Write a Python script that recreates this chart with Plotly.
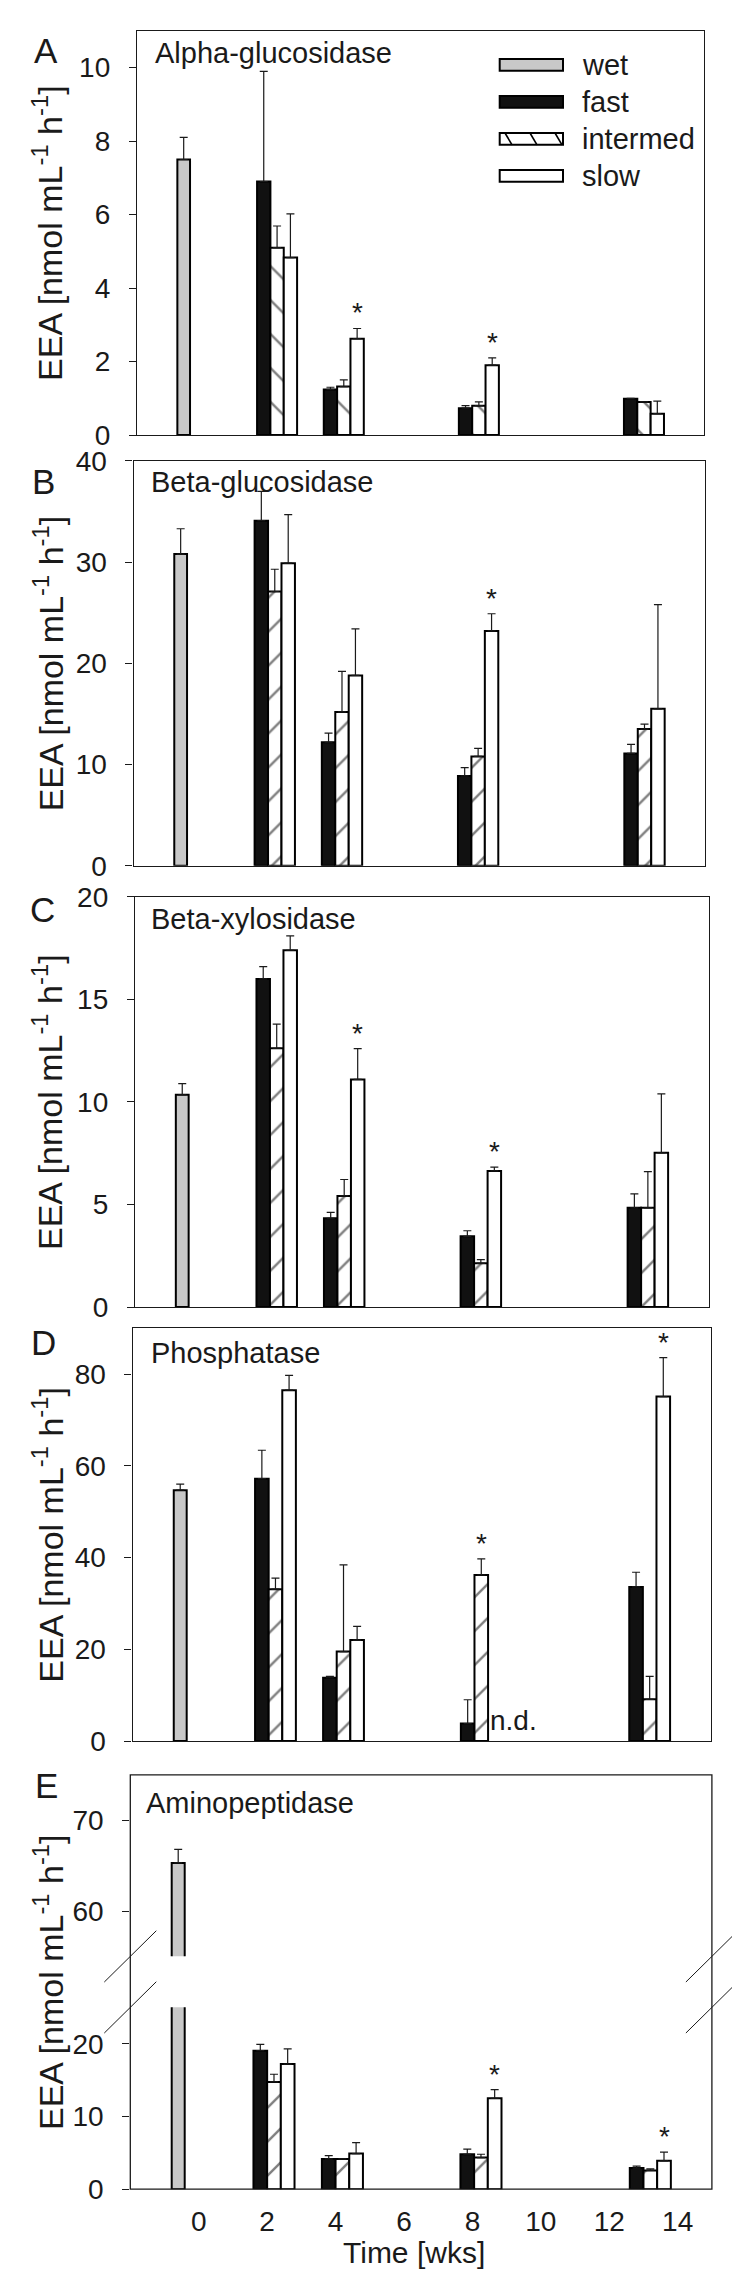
import plotly.graph_objects as go

W, H = 740, 2282
FONT = "Liberation Sans, Arial, sans-serif"
INK = "#1a1a1a"

# ---------------- data ----------------
panel_letters = ["A", "B", "C", "D", "E"]
panel_titles = ["Alpha-glucosidase", "Beta-glucosidase", "Beta-xylosidase",
                "Phosphatase", "Aminopeptidase"]
series_names = ["wet", "fast", "intermed", "slow"]
wet_week = -0.6
weeks = [2.2, 4.2, 8.25, 13.2]          # sampling groups (bar group centres)
x_tick_vals = [0, 2, 4, 6, 8, 10, 12, 14]
x_tick_text = ["0", "2", "4", "6", "8", "10", "12", "14"]

# means and upper error-bar ends (mean + SE)
wet_mean = [7.5, 30.8, 10.35, 54.7, 65.3]
wet_top = [8.1, 33.3, 10.9, 56.0, 66.8]

fast_mean = [[6.9, 1.24, 0.73, 0.99],
             [34.1, 12.2, 8.87, 11.1],
             [16.0, 4.33, 3.45, 4.84],
             [57.2, 13.8, 3.8, 33.6],
             [19.05, 4.16, 4.8, 2.9]]
fast_top = [[9.9, 1.30, 0.80, 1.0],
            [37.0, 13.1, 9.7, 12.0],
            [16.6, 4.62, 3.72, 5.52],
            [63.4, 14.1, 9.0, 36.8],
            [19.9, 4.6, 5.5, 3.17]]
int_mean = [[5.1, 1.32, 0.80, 0.90],
            [27.1, 15.2, 10.8, 13.5],
            [12.62, 5.42, 2.13, 4.84],
            [33.1, 19.5, 36.2, 9.1],
            [14.75, 4.16, 4.34, 2.58]]
int_top = [[5.69, 1.50, 0.90, 0.90],
           [29.3, 19.2, 11.6, 14.0],
           [13.8, 6.22, 2.31, 6.6],
           [35.5, 38.4, 39.7, 14.1],
           [15.8, 4.16, 4.8, 2.8]]
slow_mean = [[4.83, 2.62, 1.9, 0.58],
             [29.9, 18.8, 23.2, 15.5],
             [17.4, 11.1, 6.64, 7.52],
             [76.5, 22.0, None, 75.1],
             [17.2, 4.9, 12.5, 3.9]]
slow_top = [[6.02, 2.9, 2.1, 0.92],
            [34.7, 23.4, 24.9, 25.8],
            [18.1, 12.6, 6.82, 10.4],
            [79.7, 25.0, None, 83.6],
            [19.3, 6.4, 13.7, 5.1]]

# significance marks: (panel, series, group index)
signif = [(0, "slow", 1), (0, "slow", 2), (1, "slow", 2), (2, "slow", 1),
          (2, "slow", 2), (3, "intermed", 2), (3, "slow", 3),
          (4, "slow", 2), (4, "slow", 3)]
not_detected = [(3, "slow", 2)]

y_ranges = [[0, 11], [0, 40], [0, 20], [0, 90], [0, 25]]
y_ticks = [[0, 2, 4, 6, 8, 10], [0, 10, 20, 30, 40], [0, 5, 10, 15, 20],
           [0, 20, 40, 60, 80], [0, 10, 20]]
e_upper_range = [55, 75]
e_upper_ticks = [60, 70]

# ---------------- layout geometry (pixels) ----------------
x_dom_px = [(129, 696), (125.6, 697), (127, 700.6), (124.6, 702.9), (122.3, 703.9)]
y_dom_px = [(8, 417.7), (444, 854.3), (886, 1301.7), (1323.2, 1741.7), (2011.7, 2196)]
e_upper_px = (1776, 1960)

BAR_W = 0.4
offsets = {"fast": -0.6, "intermed": -0.2, "slow": 0.2}
colors = {"wet": "#c8c8c8", "fast": "#111111", "intermed": "white", "slow": "white"}

TICK_SIZE = 28
TITLE_SIZE = 29


def fx(p):
    return p / W


def fy(p):
    return 1 - p / H


fig = go.Figure()


def add_series(i, xa, ya, wet_err=True):
    fig.add_trace(go.Bar(
        x=[wet_week], y=[wet_mean[i]], width=0.38, offset=-0.19,
        marker=dict(color=colors["wet"], line=dict(color="black", width=2)),
        error_y=dict(type="data", symmetric=False,
                     array=[wet_top[i] - wet_mean[i]], arrayminus=[0],
                     color=INK, thickness=1.2, width=4, visible=wet_err),
        xaxis=xa, yaxis=ya, showlegend=False, name="wet"))
    data = {"fast": (fast_mean[i], fast_top[i]),
            "intermed": (int_mean[i], int_top[i]),
            "slow": (slow_mean[i], slow_top[i])}
    for s in ["fast", "intermed", "slow"]:
        m, t = data[s]
        err = [(tt - mm) if (mm is not None and tt is not None) else None
               for mm, tt in zip(m, t)]
        marker = dict(color=colors[s], line=dict(color="black", width=2))
        if s == "intermed":
            marker["pattern"] = dict(shape="\\" if i == 0 else "/",
                                     fgcolor="black", bgcolor="white",
                                     size=24, solidity=0.1)
        fig.add_trace(go.Bar(
            x=weeks, y=m, width=BAR_W, offset=offsets[s], marker=marker,
            error_y=dict(type="data", symmetric=False, array=err,
                         arrayminus=[0] * len(err), color=INK,
                         thickness=1.2, width=4),
            xaxis=xa, yaxis=ya, showlegend=False, name=s))


axis_font = dict(family=FONT, size=TICK_SIZE, color=INK)
layout = dict(width=W, height=H, margin=dict(l=0, r=0, t=0, b=0),
              paper_bgcolor="white", plot_bgcolor="white",
              barmode="overlay", showlegend=False, font=dict(family=FONT, color=INK))

for i in range(5):
    n = i + 1
    xa, ya = ("x" if n == 1 else f"x{n}"), ("y" if n == 1 else f"y{n}")
    add_series(i, xa, ya, wet_err=(i != 4))
    xkey = "xaxis" if n == 1 else f"xaxis{n}"
    ykey = "yaxis" if n == 1 else f"yaxis{n}"
    layout[xkey] = dict(domain=[fx(x_dom_px[i][0]), fx(x_dom_px[i][1])],
                        range=[-2, 15], anchor=ya, showgrid=False, zeroline=False,
                        showline=(i != 4), mirror=True, linecolor=INK, linewidth=1.3,
                        ticks="", showticklabels=(i == 4),
                        tickvals=x_tick_vals, ticktext=x_tick_text,
                        tickfont=axis_font, ticklabelstandoff=13)
    layout[ykey] = dict(domain=[fy(y_dom_px[i][1]), fy(y_dom_px[i][0])],
                        range=y_ranges[i], anchor=xa, showgrid=False, zeroline=False,
                        showline=(i != 4), mirror=True, linecolor=INK, linewidth=1.3,
                        ticks="outside", ticklen=7, tickwidth=1.3, tickcolor=INK,
                        tickvals=y_ticks[i], tickfont=axis_font, ticklabelstandoff=13)

# E upper segment (broken axis)
fig.add_trace(go.Bar(
    x=[wet_week], y=[wet_mean[4]], width=0.38, offset=-0.19,
    marker=dict(color=colors["wet"], line=dict(color="black", width=2)),
    error_y=dict(type="data", symmetric=False, array=[wet_top[4] - wet_mean[4]],
                 arrayminus=[0], color=INK, thickness=1.2, width=4),
    xaxis="x5", yaxis="y6", showlegend=False, name="wet"))
layout["yaxis6"] = dict(domain=[fy(e_upper_px[1]), fy(e_upper_px[0])],
                        range=e_upper_range, anchor="x5", showgrid=False, zeroline=False,
                        showline=False, ticks="outside", ticklen=7, tickwidth=1.3,
                        tickcolor=INK, tickvals=e_upper_ticks, tickfont=axis_font,
                        ticklabelstandoff=13)

fig.update_layout(**layout)

shapes = []
# E frame (continuous through the break)
shapes.append(dict(type="rect", xref="paper", yref="paper",
                   x0=fx(x_dom_px[4][0]), x1=fx(x_dom_px[4][1]),
                   y0=fy(y_dom_px[4][1]), y1=fy(e_upper_px[0]),
                   line=dict(color=INK, width=1.3), fillcolor="rgba(0,0,0,0)"))
# break marks
for xc in (x_dom_px[4][0], x_dom_px[4][1]):
    for yc in (e_upper_px[1], y_dom_px[4][0]):
        shapes.append(dict(type="line", xref="paper", yref="paper",
                           x0=fx(xc - 26), y0=fy(yc + 26), x1=fx(xc + 26), y1=fy(yc - 26),
                           line=dict(color=INK, width=1)))

# legend (drawn inside panel A)
leg_x0, leg_x1 = 491.7, 555
leg_rows = [42.5, 80, 117.5, 155]
for s, yc in zip(series_names, leg_rows):
    shapes.append(dict(type="rect", xref="paper", yref="paper",
                       x0=fx(leg_x0), x1=fx(leg_x1), y0=fy(yc + 6), y1=fy(yc - 6),
                       line=dict(color="black", width=2), fillcolor=colors[s]))
    if s == "intermed":
        for hx in (497, 522, 547):
            shapes.append(dict(type="line", xref="paper", yref="paper",
                               x0=fx(hx), y0=fy(yc - 6), x1=fx(hx + 7), y1=fy(yc + 6),
                               line=dict(color="black", width=1.6)))

annotations = []
for s, yc in zip(series_names, leg_rows):
    annotations.append(dict(text=s, xref="paper", yref="paper", x=fx(572), y=fy(yc),
                            xanchor="left", yanchor="middle", showarrow=False,
                            font=dict(family=FONT, size=29, color=INK)))

letter_pos = [(38, 28), (35, 465), (34, 899), (35, 1338), (38, 1787)]
title_pos = [(145, 30), (141, 465), (141, 908), (141, 1348), (136, 1805)]
for i in range(5):
    annotations.append(dict(text=panel_letters[i], xref="paper", yref="paper",
                            x=fx(letter_pos[i][0]), y=fy(letter_pos[i][1]),
                            xanchor="center", yanchor="middle", showarrow=False,
                            font=dict(family=FONT, size=35, color=INK)))
    annotations.append(dict(text=panel_titles[i], xref="paper", yref="paper",
                            x=fx(title_pos[i][0]), y=fy(title_pos[i][1]),
                            xanchor="left", yanchor="middle", showarrow=False,
                            font=dict(family=FONT, size=TITLE_SIZE, color=INK)))
    top = e_upper_px[0] if i == 4 else y_dom_px[i][0]
    yc = (top + y_dom_px[i][1]) / 2
    annotations.append(dict(text="EEA [nmol mL<sup>-1</sup> h<sup>-1</sup>]",
                            xref="paper", yref="paper", x=fx(40), y=fy(yc),
                            xanchor="center", yanchor="middle", textangle=-90,
                            showarrow=False, font=dict(family=FONT, size=34, color=INK)))

annotations.append(dict(text="Time [wks]", xref="paper", yref="paper",
                        x=fx(406), y=fy(2260), xanchor="center", yanchor="middle",
                        showarrow=False, font=dict(family=FONT, size=30, color=INK)))

tops = {"fast": fast_top, "intermed": int_top, "slow": slow_top}
for (p, s, g) in signif:
    n = p + 1
    xa = "x" if n == 1 else f"x{n}"
    ya = "y" if n == 1 else f"y{n}"
    annotations.append(dict(text="*", xref=xa, yref=ya,
                            x=weeks[g] + offsets[s] + BAR_W / 2, y=tops[s][p][g],
                            xanchor="center", yanchor="bottom", yshift=-2,
                            showarrow=False, font=dict(family=FONT, size=28, color=INK)))
for (p, s, g) in not_detected:
    n = p + 1
    annotations.append(dict(text="n.d.", xref=f"x{n}", yref=f"y{n}",
                            x=weeks[g] + offsets[s], y=0, xanchor="left",
                            yanchor="bottom", yshift=3, showarrow=False,
                            font=dict(family=FONT, size=28, color=INK)))

fig.update_layout(shapes=shapes, annotations=annotations)
fig.write_html("out.html")
